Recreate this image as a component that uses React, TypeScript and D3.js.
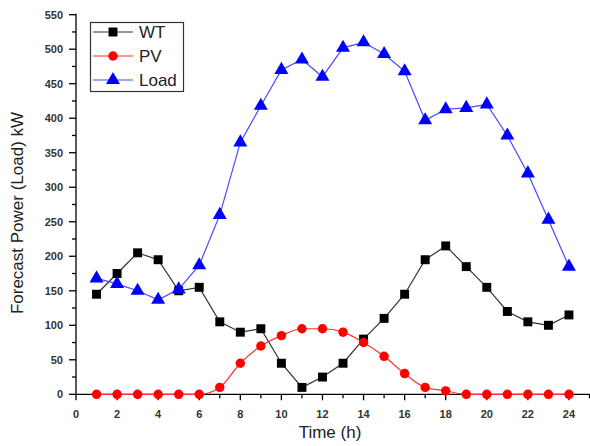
import { useEffect, useRef } from "react";
import * as d3 from "d3";

const hours = d3.range(1, 25);
const wt = [145, 175, 205, 195, 150, 155, 105, 90, 95, 45, 10, 25, 45, 80, 110, 145, 195, 215, 185, 155, 120, 105, 100, 115];
const pv = [0, 0, 0, 0, 0, 0, 10, 45, 70, 85, 95, 95, 90, 75, 55, 30, 10, 5, 0, 0, 0, 0, 0, 0];
const load = [168, 160, 150, 137, 152, 187, 260, 365, 418, 470, 485, 460, 502, 510, 493, 468, 397, 413, 415, 420, 375, 320, 253, 185];
const seriesNames = ["WT", "PV", "Load"];
const xLabels = d3.range(0, 25, 2);
const yLabels = d3.range(0, 551, 50);

const W = 590;
const H = 446;
const FONT = "Arial, 'Liberation Sans', sans-serif";

function Chart() {
  const ref = useRef<SVGSVGElement>(null);

  useEffect(() => {
    const svg = d3.select(ref.current);
    svg.selectAll("*").remove();

    const x = d3.scaleLinear().domain([0, 25]).range([76, 589.5]);
    const y = d3.scaleLinear().domain([0, 550]).range([394.3, 14.7]);

    // y axis
    const ya = svg.append("g").attr("stroke", "#000").attr("stroke-width", 1.3);
    ya.append("line").attr("x1", 76).attr("x2", 76).attr("y1", y(550) - 1).attr("y2", y(0));
    d3.range(0, 551, 25).forEach((v) => {
      const major = v % 50 === 0;
      ya.append("line")
        .attr("x1", major ? 69 : 72)
        .attr("x2", 76)
        .attr("y1", y(v))
        .attr("y2", y(v));
    });
    svg.append("g")
      .selectAll("text")
      .data(yLabels)
      .join("text")
      .attr("x", 63)
      .attr("y", (d) => y(d))
      .attr("dy", "0.36em")
      .attr("text-anchor", "end")
      .attr("font-family", FONT)
      .attr("font-size", 11)
      .attr("font-weight", "bold")
      .attr("fill", "#333")
      .text((d) => d);

    // x axis
    const xa = svg.append("g").attr("stroke", "#000").attr("stroke-width", 1.3);
    xa.append("line").attr("x1", 76).attr("x2", 590).attr("y1", y(0)).attr("y2", y(0));
    d3.range(0, 26).forEach((v) => {
      xa.append("line")
        .attr("x1", x(v))
        .attr("x2", x(v))
        .attr("y1", y(0))
        .attr("y2", y(0) + (v % 2 === 0 ? 6 : 4));
    });
    svg.append("g")
      .selectAll("text")
      .data(xLabels)
      .join("text")
      .attr("x", (d) => x(d))
      .attr("y", 418)
      .attr("text-anchor", "middle")
      .attr("font-family", FONT)
      .attr("font-size", 11)
      .attr("font-weight", "bold")
      .attr("fill", "#333")
      .text((d) => d);

    // titles
    svg.append("text")
      .attr("x", 330)
      .attr("y", 438)
      .attr("text-anchor", "middle")
      .attr("font-family", FONT)
      .attr("font-size", 17)
      .attr("fill", "#222")
      .text("Time (h)");
    svg.append("text")
      .attr("transform", "translate(23,213) rotate(-90)")
      .attr("text-anchor", "middle")
      .attr("font-family", FONT)
      .attr("font-size", 17)
      .attr("fill", "#222")
      .text("Forecast Power (Load) kW");

    const lineOf = (vals: number[], curve: d3.CurveFactory) =>
      d3.line<number>()
        .x((_, i) => x(hours[i]))
        .y((d) => y(d))
        .curve(curve)(vals);

    const square = d3.symbol(d3.symbolSquare, 80);
    const circle = d3.symbol(d3.symbolCircle, 70);
    const tri = d3.symbol(d3.symbolTriangle, 85);

    const series = [
      { vals: wt, line: "#333", fill: "#000", sym: square, curve: d3.curveLinear },
      { vals: pv, line: "#ff3030", fill: "#ff0000", sym: circle, curve: d3.curveMonotoneX },
      { vals: load, line: "#4848ff", fill: "#0000ff", sym: tri, curve: d3.curveLinear },
    ];

    series.forEach((s) => {
      svg.append("path")
        .attr("d", lineOf(s.vals, s.curve))
        .attr("fill", "none")
        .attr("stroke", s.line)
        .attr("stroke-width", 1.2);
      svg.append("g")
        .selectAll("path")
        .data(s.vals)
        .join("path")
        .attr("transform", (d, i) => `translate(${x(hours[i])},${y(d)})`)
        .attr("d", s.sym() as string)
        .attr("fill", s.fill);
    });

    // legend
    const lg = svg.append("g");
    lg.append("rect")
      .attr("x", 90.5)
      .attr("y", 22.5)
      .attr("width", 93)
      .attr("height", 69)
      .attr("fill", "#fff")
      .attr("stroke", "#333")
      .attr("stroke-width", 1.2);
    const rows = [32, 56, 80];
    series.forEach((s, i) => {
      lg.append("line")
        .attr("x1", 93)
        .attr("x2", 133)
        .attr("y1", rows[i])
        .attr("y2", rows[i])
        .attr("stroke", s.line)
        .attr("stroke-width", 1.2);
      lg.append("path")
        .attr("transform", `translate(113,${rows[i]})`)
        .attr("d", s.sym() as string)
        .attr("fill", s.fill);
      lg.append("text")
        .attr("x", 139)
        .attr("y", rows[i])
        .attr("dy", "0.36em")
        .attr("font-family", FONT)
        .attr("font-size", 17)
        .attr("fill", "#222")
        .text(seriesNames[i]);
    });
  }, []);

  return <svg ref={ref} width={W} height={H} style={{ display: "block" }} />;
}

export default function App() {
  return (
    <div style={{ position: "absolute", left: 0, top: 0, background: "#fff" }}>
      <Chart />
    </div>
  );
}
